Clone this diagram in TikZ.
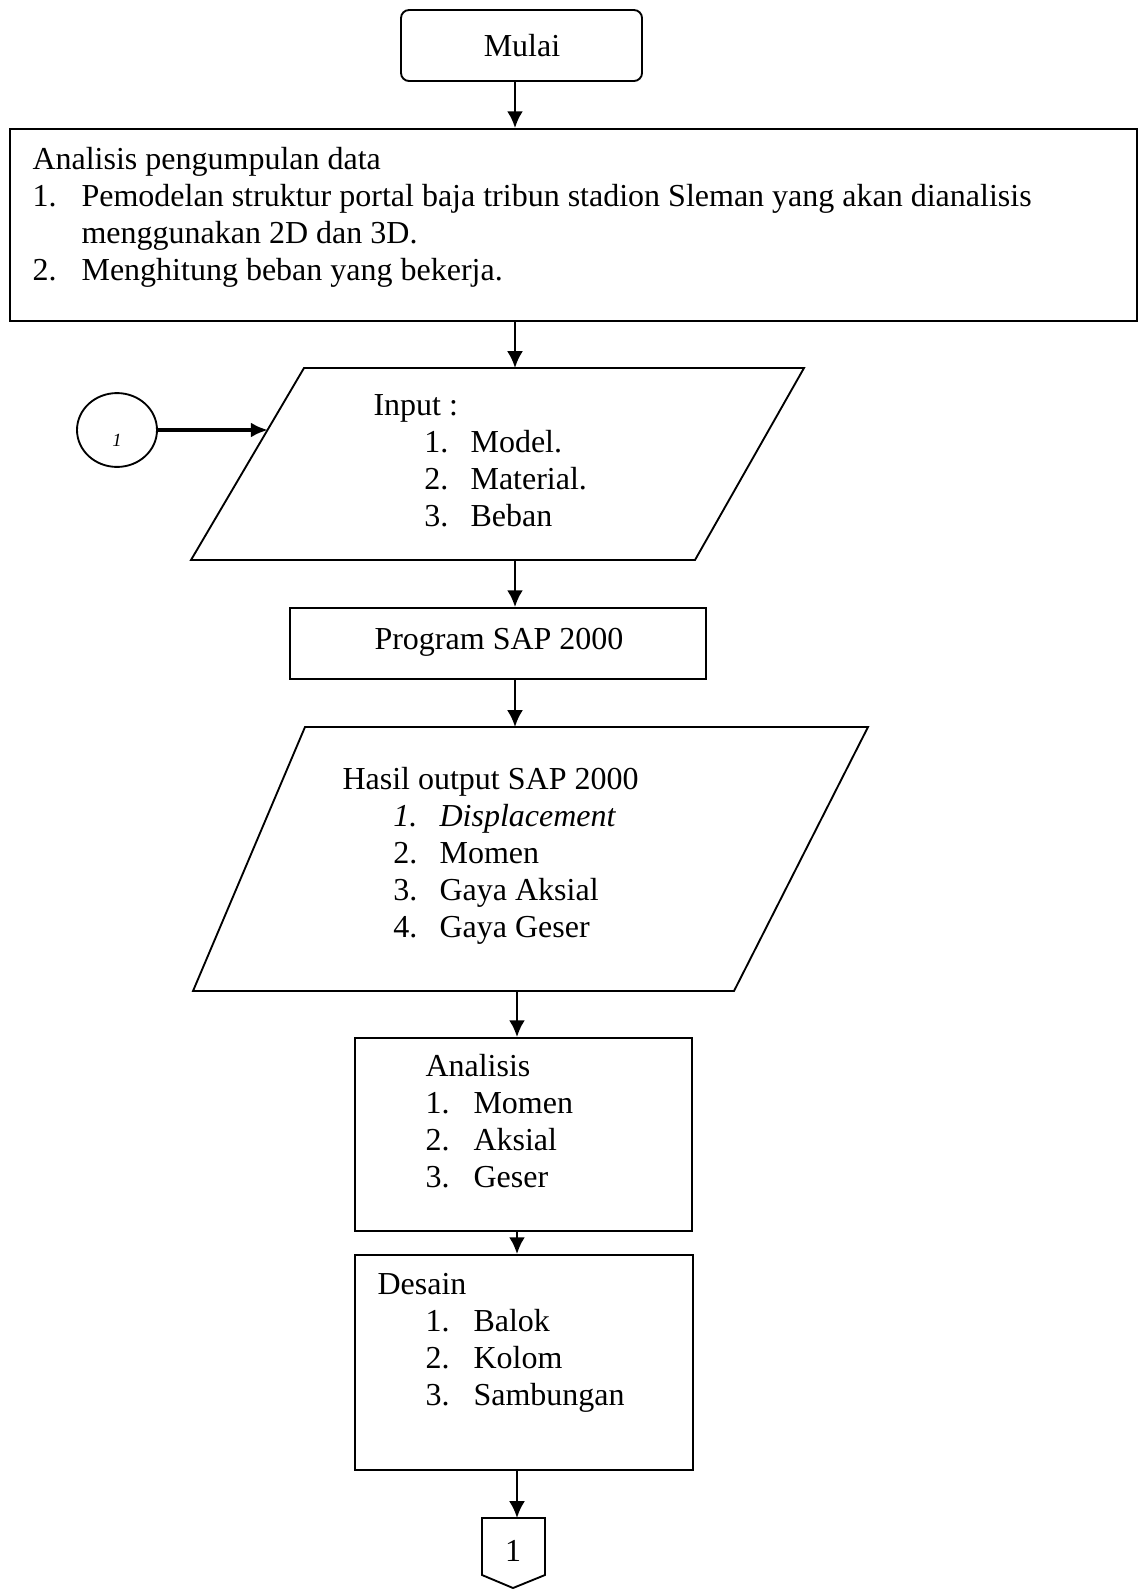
\documentclass[tikz,border=0pt]{standalone}
\usepackage{fontspec}
\setmainfont{Liberation Serif}
\usetikzlibrary{arrows.meta,fit,shapes.geometric}

\newcommand{\itm}[2]{\makebox[#1][l]{#2}}

\begin{document}
\begin{tikzpicture}[x=0.375pt,y=-0.375pt,
  box/.style={draw,line width=0.7pt,inner sep=0pt},
  lbl/.style={inner sep=0pt,font=\fontsize{12}{13.9}\selectfont},
  txt/.style={anchor=base west,inner sep=0pt,font=\fontsize{12}{13.9}\selectfont},
  arr/.style={line width=1pt,-{Latex[length=6.3pt,width=6pt]}},
  arrthick/.style={line width=1.5pt,-{Latex[length=6.4pt,width=5.6pt]}}]
\useasboundingbox (0,0) rectangle (1139,1589);
%\draw[help lines,step=50] (0,0) grid (1139,1589);

\coordinate (axis) at (515,0);
\coordinate (axis2) at (517,0);

\node [box,rounded corners=3pt,fit={(401,10) (642,81)}] (mulai) {};
\node [lbl] (mulaitxt) at (522,46) {Mulai};

\node [box,fit={(10,129) (1137,321)}] (data) {};
\node [txt] (datatxt) at (32,169) {\begin{tabular}[t]{@{}l@{}}Analisis pengumpulan data\\
  \itm{18.4pt}{1.}Pemodelan struktur portal baja tribun stadion Sleman yang akan dianalisis\\
  \hspace*{18.4pt}menggunakan 2D dan 3D.\\
  \itm{18.4pt}{2.}Menghitung beban yang bekerja.\end{tabular}};

\coordinate (in-nw) at (304,368);
\coordinate (in-ne) at (804,368);
\coordinate (in-se) at (695,560);
\coordinate (in-sw) at (191,560);
\coordinate (in-w) at (268,430);
\draw [line width=0.7pt] (in-nw) -- (in-ne) -- (in-se) -- (in-sw) -- cycle;
\node [txt] (input) at (373,415) {\begin{tabular}[t]{@{}l@{}}Input :\\
  \hspace*{19.1pt}\itm{17.3pt}{1.}Model.\\
  \hspace*{19.1pt}\itm{17.3pt}{2.}Material.\\
  \hspace*{19.1pt}\itm{17.3pt}{3.}Beban\end{tabular}};

\node [box,ellipse,minimum width=30pt,minimum height=27.7pt] (sambung) at (117,430) {\raisebox{-6pt}[0pt][0pt]{\scriptsize\itshape 1}};

\node [box,fit={(290,608) (706,679)}] (program) {};
\node [lbl] (programtxt) at (499,642) {Program SAP 2000};

\coordinate (out-nw) at (305,727);
\coordinate (out-ne) at (868,727);
\coordinate (out-se) at (734,991);
\coordinate (out-sw) at (193,991);
\draw [line width=0.7pt] (out-nw) -- (out-ne) -- (out-se) -- (out-sw) -- cycle;
\node [txt] (output) at (342,789) {\begin{tabular}[t]{@{}l@{}}Hasil output SAP 2000\\
  \hspace*{19.1pt}\itm{17.3pt}{\textit{1.}}\textit{Displacement}\\
  \hspace*{19.1pt}\itm{17.3pt}{2.}Momen\\
  \hspace*{19.1pt}\itm{17.3pt}{3.}Gaya Aksial\\
  \hspace*{19.1pt}\itm{17.3pt}{4.}Gaya Geser\end{tabular}};

\node [box,fit={(355,1038) (692,1231)}] (analisis) {};
\node [txt] (analisistxt) at (425,1076) {\begin{tabular}[t]{@{}l@{}}Analisis\\
  \itm{18pt}{1.}Momen\\
  \itm{18pt}{2.}Aksial\\
  \itm{18pt}{3.}Geser\end{tabular}};

\node [box,fit={(355,1255) (693,1470)}] (desain) {};
\node [txt] (desaintxt) at (377,1294) {\begin{tabular}[t]{@{}l@{}}Desain\\
  \hspace*{18pt}\itm{18pt}{1.}Balok\\
  \hspace*{18pt}\itm{18pt}{2.}Kolom\\
  \hspace*{18pt}\itm{18pt}{3.}Sambungan\end{tabular}};

\coordinate (hal-nw) at (482,1518);
\coordinate (hal-ne) at (545,1518);
\draw [line width=0.7pt] (hal-nw) -- (hal-ne) -- (545,1575) -- (513,1588) -- (482,1575) -- cycle;
\node [lbl] (hal1) at (513,1551) {1};

\draw [arr] (mulai.south -| axis) -- (data.north -| axis);
\draw [arr] (data.south -| axis) -- (in-nw -| axis);
\draw [arrthick] (sambung.east) -- (in-w);
\draw [arr] (in-sw -| axis) -- (program.north -| axis);
\draw [arr] (program.south -| axis) -- (out-nw -| axis);
\draw [arr] (out-sw -| axis2) -- (analisis.north -| axis2);
\draw [arr] (analisis.south -| axis2) -- (desain.north -| axis2);
\draw [arr] (desain.south -| axis2) -- (hal-nw -| axis2);
\end{tikzpicture}
\end{document}
